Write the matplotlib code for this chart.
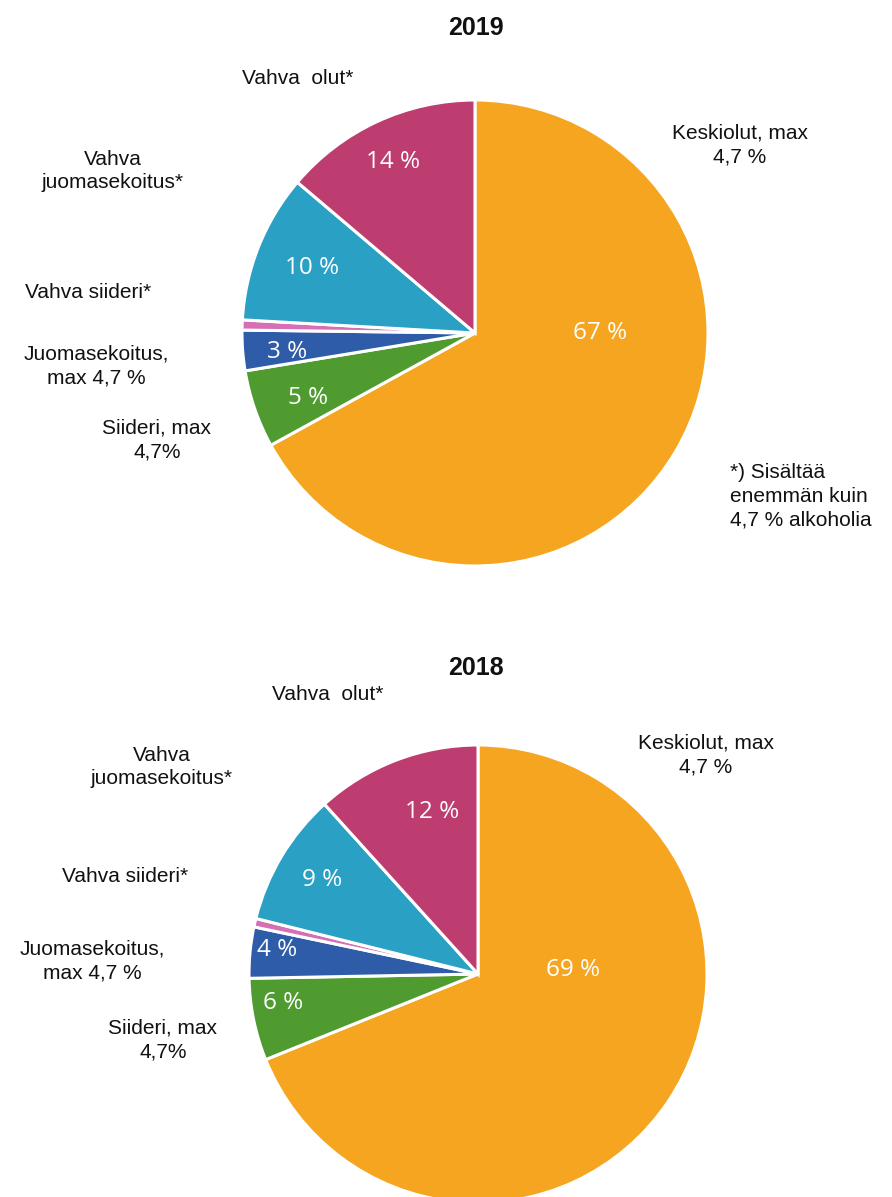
import matplotlib
matplotlib.use("Agg")
import matplotlib.pyplot as plt

categories = ["Keskiolut, max 4,7 %", "Siideri, max 4,7%", "Juomasekoitus, max 4,7 %",
              "Vahva siideri*", "Vahva juomasekoitus*", "Vahva olut*"]
values_2019 = [67.0, 5.4, 2.8, 0.7, 10.3, 13.8]
values_2018 = [68.9, 5.8, 3.6, 0.6, 9.4, 11.7]
colors = ["#F5A51F", "#4F9B30", "#2E5CA9", "#D66FB3", "#2AA0C4", "#BE3D70"]

W, H = 892, 1197
fig = plt.figure(figsize=(W / 100, H / 100), dpi=100)
fig.patch.set_facecolor("white")

LBL = ["Liberation Sans", "DejaVu Sans"]
PCT = ["Open Sans", "DejaVu Sans"]


def px(x, y):
    return x / W, 1 - y / H


def T(x, y, s, **kw):
    fx, fy = px(x, y)
    kw.setdefault("fontsize", 15)
    kw.setdefault("family", LBL)
    kw.setdefault("ha", "center")
    kw.setdefault("va", "center")
    kw.setdefault("linespacing", 1.3)
    kw.setdefault("color", "#111111")
    fig.text(fx, fy, s, **kw)


def draw_pie(cx, cy, r, vals):
    ax = fig.add_axes([(cx - r) / W, 1 - (cy + r) / H, 2 * r / W, 2 * r / H])
    ax.pie(vals, colors=colors, startangle=90, counterclock=False, radius=1,
           wedgeprops=dict(edgecolor="white", linewidth=2.2))
    ax.set_xlim(-1, 1)
    ax.set_ylim(-1, 1)
    ax.axis("off")
    return ax


def pct(v):
    return f"{int(round(v))} %"


# ---- 2019 ----
draw_pie(475, 333, 233, values_2019)
T(476, 28, "2019", fontweight="bold", fontsize=18)
T(298, 78, "Vahva  olut*")
T(113, 171, "Vahva\njuomasekoitus*")
T(88, 292, "Vahva siideri*")
T(96, 366, "Juomasekoitus,\nmax 4,7 %")
T(157, 440, "Siideri, max\n4,7%")
T(740, 145, "Keskiolut, max\n4,7 %")
T(730, 496, "*) Sisältää\nenemmän kuin\n4,7 % alkoholia", ha="left")

pos_2019 = [(600, 333), (308, 398), (287, 352), None, (312, 268), (393, 162)]
for v, p in zip(values_2019, pos_2019):
    if p is not None:
        T(p[0], p[1], pct(v), family=PCT, color="white", fontsize=17.5)

# ---- 2018 ----
draw_pie(478, 974, 229, values_2018)
T(476, 668, "2018", fontweight="bold", fontsize=18)
T(328, 694, "Vahva  olut*")
T(162, 767, "Vahva\njuomasekoitus*")
T(125, 876, "Vahva siideri*")
T(92, 961, "Juomasekoitus,\nmax 4,7 %")
T(163, 1040, "Siideri, max\n4,7%")
T(706, 755, "Keskiolut, max\n4,7 %")

pos_2018 = [(573, 970), (283, 1003), (277, 950), None, (322, 880), (432, 812)]
for v, p in zip(values_2018, pos_2018):
    if p is not None:
        T(p[0], p[1], pct(v), family=PCT, color="white", fontsize=17.5)

fig.savefig("out.png", dpi=100, facecolor="white")
